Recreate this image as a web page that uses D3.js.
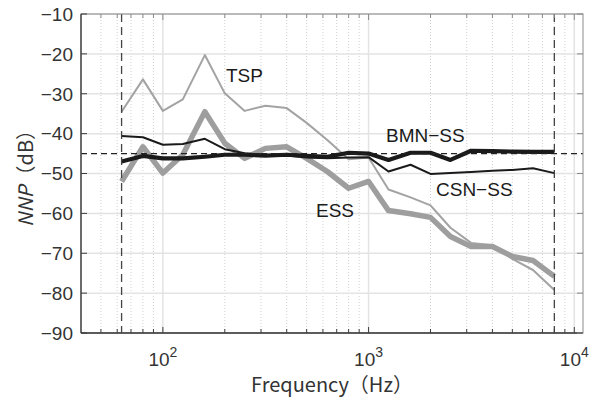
<!DOCTYPE html>
<html>
<head>
<meta charset="utf-8">
<script src="https://cdn.jsdelivr.net/npm/d3@7"></script>
<style>
  body { margin: 0; background: #fff; }
  svg { display: block; font-family: "Liberation Sans", Arial, sans-serif; }
  .cjk { font-family: "Noto Sans CJK JP", "Noto Sans", sans-serif; }
</style>
</head>
<body>
<svg></svg>
<script>
// Third-octave band centre frequencies (Hz)
const freqs = [63, 80, 100, 125, 160, 200, 250, 315, 400, 500, 630, 800,
  1000, 1250, 1600, 2000, 2500, 3150, 4000, 5000, 6300, 8000];

// NNP values (dB)
const tsp = [-34.5, -26.4, -34.3, -31.4, -20.3, -29.9, -34.3, -33.0, -33.6, -37.3, -41.6, -46.4,
  -46.0, -54.0, -56.0, -58.0, -63.6, -67.4, -68.0, -71.4, -74.2, -79.2];
const ess = [-52.0, -43.3, -49.9, -45.3, -34.5, -42.4, -46.2, -43.7, -43.3, -46.2, -49.5, -53.7,
  -52.0, -59.3, -60.1, -61.0, -65.8, -68.3, -68.3, -70.8, -71.8, -75.8];
const csn = [-40.6, -40.9, -42.8, -42.6, -41.3, -43.9, -44.9, -45.4, -45.5, -46.0, -46.2, -46.0,
  -45.9, -49.5, -47.8, -50.1, -49.9, -49.6, -49.3, -49.1, -48.7, -49.9];
const bmn = [-47.0, -45.6, -46.2, -46.2, -45.8, -45.3, -45.3, -45.5, -45.3, -45.6, -45.8, -44.8,
  -45.0, -46.6, -44.8, -44.8, -46.6, -44.3, -44.4, -44.5, -44.6, -44.6];

const yTicks = [-90, -80, -70, -60, -50, -40, -30, -20, -10];
const xDecades = [100, 1000, 10000];
const refLevel = -45;          // horizontal dashed reference
const bandEdges = [63, 8000];  // vertical dashed limits

const svgWidth = 602, svgHeight = 398;
const plot = { left: 81, right: 583, top: 14, bottom: 333 };

const svg = d3.select("svg")
    .attr("width", svgWidth)
    .attr("height", svgHeight);

const x = d3.scaleLog().domain([40, 11025]).range([plot.left, plot.right]);
const y = d3.scaleLinear().domain([-90, -10]).range([plot.bottom, plot.top]);

// minor x ticks: 2..9 times each decade inside the domain
const xMinor = [];
[10, 100, 1000, 10000].forEach(d => {
  for (let k = 2; k <= 9; k++) {
    const f = d * k;
    if (f > 40 && f < 11025) xMinor.push(f);
  }
});

// Grid
const grid = svg.append("g");
grid.selectAll(".minor")
    .data(xMinor)
    .enter().append("line")
    .attr("x1", d => x(d)).attr("x2", d => x(d))
    .attr("y1", plot.top).attr("y2", plot.bottom)
    .attr("stroke", "#cfcfcf")
    .attr("stroke-width", 1)
    .attr("stroke-dasharray", "1,2");

grid.selectAll(".xmajor")
    .data(xDecades)
    .enter().append("line")
    .attr("x1", d => x(d)).attr("x2", d => x(d))
    .attr("y1", plot.top).attr("y2", plot.bottom)
    .attr("stroke", "#e3e3e3")
    .attr("stroke-width", 1.5);

grid.selectAll(".ymajor")
    .data(yTicks)
    .enter().append("line")
    .attr("x1", plot.left).attr("x2", plot.right)
    .attr("y1", d => y(d)).attr("y2", d => y(d))
    .attr("stroke", "#e3e3e3")
    .attr("stroke-width", 1.5);

// Data lines
const line = vals => d3.line()
    .x((d, i) => x(freqs[i]))
    .y(d => y(d))(vals);

const series = [
  { vals: tsp, color: "#a3a3a3", width: 2 },
  { vals: ess, color: "#9e9e9e", width: 5.5 },
  { vals: csn, color: "#1a1a1a", width: 2 },
  { vals: bmn, color: "#1a1a1a", width: 4.2 }
];

svg.append("g").selectAll("path")
    .data(series)
    .enter().append("path")
    .attr("d", d => line(d.vals))
    .attr("fill", "none")
    .attr("stroke", d => d.color)
    .attr("stroke-width", d => d.width)
    .attr("stroke-linejoin", "round");

// Dashed reference lines
svg.append("line")
    .attr("x1", plot.left).attr("x2", plot.right)
    .attr("y1", y(refLevel)).attr("y2", y(refLevel))
    .attr("stroke", "#222")
    .attr("stroke-width", 1.2)
    .attr("stroke-dasharray", "6,4");

svg.selectAll(".edge")
    .data(bandEdges)
    .enter().append("line")
    .attr("x1", d => x(d)).attr("x2", d => x(d))
    .attr("y1", plot.top).attr("y2", plot.bottom)
    .attr("stroke", "#444")
    .attr("stroke-width", 1.3)
    .attr("stroke-dasharray", "8,5");

// Axis box with inward ticks
const axisColor = "#3c3c3c";
const box = svg.append("g");
box.append("rect")
    .attr("x", plot.left).attr("y", plot.top)
    .attr("width", plot.right - plot.left).attr("height", plot.bottom - plot.top)
    .attr("fill", "none")
    .attr("stroke", "#8a8a8a")
    .attr("stroke-width", 1);
box.append("line")
    .attr("x1", plot.left).attr("x2", plot.right)
    .attr("y1", plot.bottom).attr("y2", plot.bottom)
    .attr("stroke", axisColor).attr("stroke-width", 1.3);
box.append("line")
    .attr("x1", plot.left).attr("x2", plot.left)
    .attr("y1", plot.top).attr("y2", plot.bottom)
    .attr("stroke", axisColor).attr("stroke-width", 1.3);

// x ticks (bottom and top)
const xt = xDecades.map(d => ({ f: d, len: 6 })).concat(xMinor.map(d => ({ f: d, len: 4 })));
box.selectAll(".xtb")
    .data(xt).enter().append("line")
    .attr("x1", d => x(d.f)).attr("x2", d => x(d.f))
    .attr("y1", plot.bottom).attr("y2", d => plot.bottom - d.len)
    .attr("stroke", axisColor).attr("stroke-width", 1);
box.selectAll(".xtt")
    .data(xt).enter().append("line")
    .attr("x1", d => x(d.f)).attr("x2", d => x(d.f))
    .attr("y1", plot.top).attr("y2", d => plot.top + d.len)
    .attr("stroke", "#8a8a8a").attr("stroke-width", 1);

// y ticks (left and right)
box.selectAll(".ytl")
    .data(yTicks).enter().append("line")
    .attr("x1", plot.left).attr("x2", plot.left + 6)
    .attr("y1", d => y(d)).attr("y2", d => y(d))
    .attr("stroke", axisColor).attr("stroke-width", 1);
box.selectAll(".ytr")
    .data(yTicks).enter().append("line")
    .attr("x1", plot.right).attr("x2", plot.right - 6)
    .attr("y1", d => y(d)).attr("y2", d => y(d))
    .attr("stroke", "#8a8a8a").attr("stroke-width", 1);

// Tick labels
svg.append("g").selectAll("text")
    .data(yTicks).enter().append("text")
    .attr("x", plot.left - 8)
    .attr("y", d => y(d))
    .attr("dy", "0.36em")
    .attr("text-anchor", "end")
    .attr("font-size", 19)
    .attr("fill", "#333")
    .text(d => "\u2212" + Math.abs(d));

const xl = svg.append("g").selectAll("text")
    .data(xDecades).enter().append("text")
    .attr("x", d => x(d))
    .attr("y", 366)
    .attr("text-anchor", "middle")
    .attr("font-size", 19)
    .attr("fill", "#333");
xl.append("tspan").text("10");
xl.append("tspan")
    .attr("font-size", 14)
    .attr("dy", -9)
    .text(d => Math.round(Math.log10(d)));

// Axis labels
svg.append("text")
    .attr("class", "cjk")
    .attr("x", (plot.left + plot.right) / 2)
    .attr("y", 392)
    .attr("text-anchor", "middle")
    .attr("font-size", 20)
    .attr("fill", "#333")
    .text("Frequency\uFF08Hz\uFF09");

const yl = svg.append("text")
    .attr("class", "cjk")
    .attr("transform", `translate(33,${(plot.top + plot.bottom) / 2}) rotate(-90)`)
    .attr("text-anchor", "middle")
    .attr("font-size", 20)
    .attr("fill", "#333");
yl.append("tspan").attr("font-style", "italic").text("NNP");
yl.append("tspan").text("\uFF08dB\uFF09");

// Series labels
const labels = [
  { text: "TSP", x: 226, y: 82 },
  { text: "BMN\u2212SS", x: 386, y: 142 },
  { text: "CSN\u2212SS", x: 436, y: 196 },
  { text: "ESS", x: 316, y: 217 }
];
svg.append("g").selectAll("text")
    .data(labels).enter().append("text")
    .attr("x", d => d.x)
    .attr("y", d => d.y)
    .attr("font-size", 19)
    .attr("fill", "#1a1a1a")
    .text(d => d.text);
</script>
</body>
</html>
